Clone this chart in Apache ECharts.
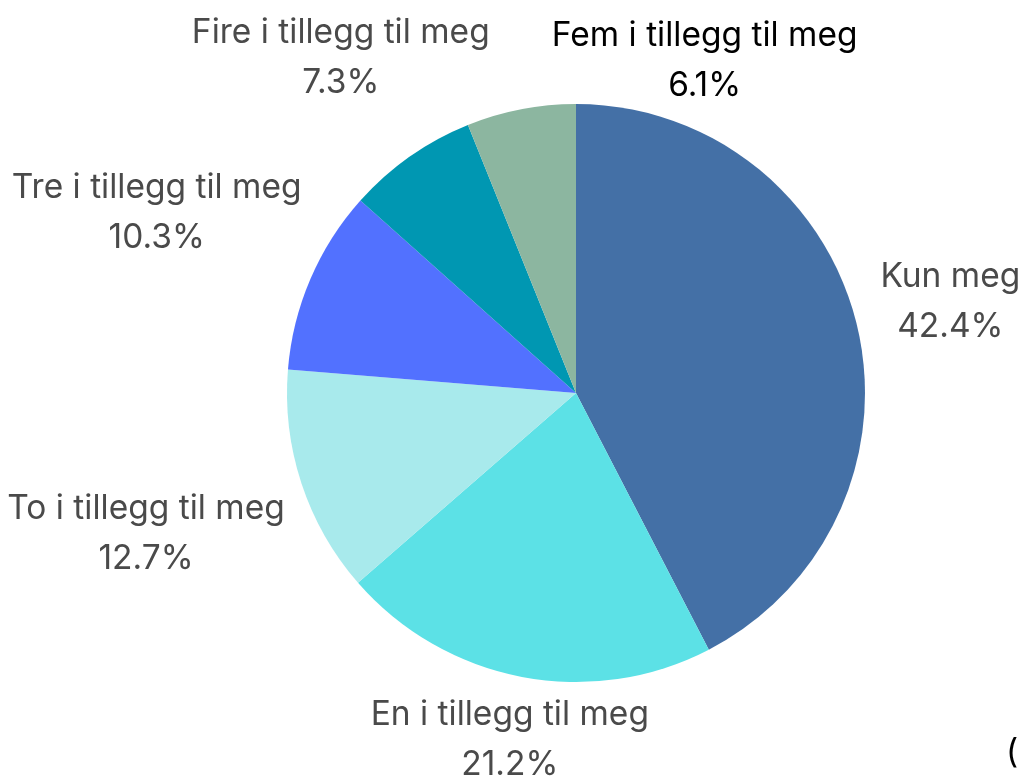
<!DOCTYPE html>
<html>
<head>
<meta charset="utf-8">
<script src="https://cdn.jsdelivr.net/npm/echarts@6/dist/echarts.min.js"></script>
<style>html,body{margin:0;padding:0;background:#fff;}#c{width:1018px;height:780px;}</style>
</head>
<body>
<div id="c"></div>
<script>
const categories = ['Kun meg', 'En i tillegg til meg', 'To i tillegg til meg', 'Tre i tillegg til meg', 'Fire i tillegg til meg', 'Fem i tillegg til meg'];
const values = [42.4, 21.2, 12.7, 10.3, 7.3, 6.1];
const colors = ['#4470a6', '#5ce1e6', '#a8eaec', '#5271ff', '#0097b2', '#8cb6a0'];

const CX = 576, CY = 393, R = 289, GAP = 20;
const total = values.reduce((a, b) => a + b, 0);
const midAngles = [];
(function () { let acc = 0; values.forEach(v => { midAngles.push((acc + v / 2) / total * 2 * Math.PI); acc += v; }); })();
// label nudge (label dragged manually in the original)
const labelNudge = { 'Fem i tillegg til meg': [196, 15] };

const chart = echarts.init(document.getElementById('c'), null, { renderer: 'canvas' });
chart.setOption({
  backgroundColor: '#fff',
  animation: false,
  series: [{
    type: 'pie',
    center: [CX, CY],
    radius: R,
    startAngle: 90,
    clockwise: true,
    avoidLabelOverlap: false,
    data: categories.map((n, i) => ({
      name: n, value: values[i],
      itemStyle: { color: colors[i] },
      label: { color: i === 5 ? '#000000' : '#4a4a4a' }
    })),
    itemStyle: { borderWidth: 0 },
    label: {
      show: true,
      position: 'outside',
      fontFamily: 'Inter',
      fontSize: 33.5,
      lineHeight: 50,
      align: 'center',
      overflow: 'none',
      formatter: p => p.name + '\n' + p.value.toFixed(1) + '%'
    },
    labelLine: { show: false },
    labelLayout: function (p) {
      const i = p.dataIndex;
      const ang = midAngles[i];
      const ux = Math.sin(ang), uy = -Math.cos(ang);
      const a = p.labelRect.width / 2, b = p.labelRect.height / 2 - 12;
      const target = R + GAP;
      let lo = 0, hi = 3000;
      for (let k = 0; k < 60; k++) {
        const D = (lo + hi) / 2;
        const dx = Math.max(Math.abs(D * ux) - a, 0), dy = Math.max(Math.abs(D * uy) - b, 0);
        if (Math.hypot(dx, dy) < target) lo = D; else hi = D;
      }
      const D = lo;
      const nudge = labelNudge[categories[i]] || [0, 0];
      return {
        x: CX + D * ux + nudge[0],
        y: CY + D * uy + nudge[1],
        align: 'center',
        verticalAlign: 'middle'
      };
    }
  }],
  graphic: [{
    type: 'text', left: 1006, top: 736,
    style: { text: '(', fontFamily: 'Inter', fontSize: 33.5, fill: '#000' }
  }]
});
</script>
</body>
</html>
